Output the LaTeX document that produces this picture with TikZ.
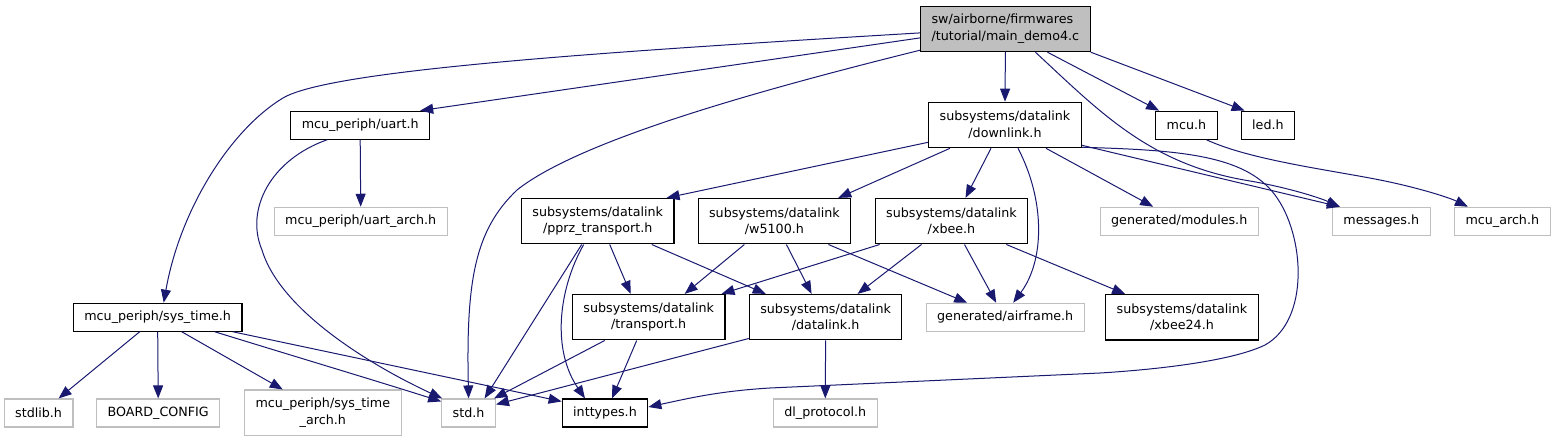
\documentclass[tikz,border=0pt]{standalone}
\usepackage{fontspec}
\setmainfont{DejaVu Sans}
\usepackage{tikz}
\usetikzlibrary{arrows.meta}
\definecolor{edgeblue}{RGB}{25,25,112}
\definecolor{rootgray}{RGB}{191,191,191}
\definecolor{extgray}{RGB}{191,191,191}

\begin{document}
\begin{tikzpicture}[
  x=1pt, y=-1pt,
  every node/.style={font=\fontsize{12.7}{16.5}\selectfont},
  box/.style={draw=black, fill=white, line width=1.1pt, minimum height=28pt, inner xsep=11pt, inner ysep=3pt, align=center},
  twoline/.style={minimum height=45.5pt},
  rootbox/.style={box, fill=rootgray, align=left},
  extbox/.style={box, draw=extgray},
  incl/.style={-{Triangle[length=13pt,width=10pt]}, draw=edgeblue, line width=1pt}
]
\useasboundingbox (0,0) rectangle (1556,443);

% files
\node[rootbox, twoline] (main) at (1005.4,28.9) {sw/airborne/firmwares\\/tutorial/main\_demo4.c};
\node[box] (uart) at (360.2,125.2) {mcu\_periph/uart.h};
\node[extbox] (uartarch) at (360.7,221.3) {mcu\_periph/uart\_arch.h};
\node[box, twoline] (downlink) at (1005,125) {subsystems/datalink\\/downlink.h};
\node[box] (mcu) at (1186.4,125.2) {mcu.h};
\node[box] (led) at (1267.9,125.2) {led.h};
\node[box] (systime) at (157.7,317.2) {mcu\_periph/sys\_time.h};
\node[box, twoline] (pprz) at (597.7,221.2) {subsystems/datalink\\/pprz\_transport.h};
\node[box, twoline] (w5100) at (774.4,221.2) {subsystems/datalink\\/w5100.h};
\node[box, twoline] (xbee) at (951.5,221.2) {subsystems/datalink\\/xbee.h};
\node[extbox] (modules) at (1179.2,221.3) {generated/modules.h};
\node[extbox] (messages) at (1381.3,221.3) {messages.h};
\node[extbox] (mcuarch) at (1502.3,221.3) {mcu\_arch.h};
\node[box, twoline] (transport) at (648.7,317.2) {subsystems/datalink\\/transport.h};
\node[box, twoline] (datalink) at (825.6,317.2) {subsystems/datalink\\/datalink.h};
\node[extbox] (airframe) at (1005.2,317.3) {generated/airframe.h};
\node[box, twoline] (xbee24) at (1182,317.3) {subsystems/datalink\\/xbee24.h};
\node[extbox] (stdlib) at (38.6,413) {stdlib.h};
\node[extbox] (boardcfg) at (158.2,413) {BOARD\_CONFIG};
\node[extbox, twoline] (systimearch) at (322.8,412.8) {mcu\_periph/sys\_time\\\_arch.h};
\node[extbox] (std) at (468.6,413) {std.h};
\node[box] (inttypes) at (605,413) {inttypes.h};
\node[extbox] (dlproto) at (825.3,413) {dl\_protocol.h};

% includes of main_demo4.c
\draw[incl] ([yshift=-9pt]main.west) -- ([xshift=-10pt]uart.north east);
\draw[incl] ([yshift=-4pt]main.west) .. controls (600,52) and (330,70) .. (283,98)
  .. controls (230,130) and (180,210) .. ([xshift=6pt]systime.north);
\draw[incl] ([yshift=2pt]main.south west) .. controls (760,90) and (580,140) .. (517,190)
  .. controls (475,230) and (466,280) .. (std.north);
\draw[incl] (main.south) -- (downlink.north);
\draw[incl] ([xshift=42pt]main.south) -- ([xshift=4pt]mcu.north west);
\draw[incl] (main.south east) -- ([xshift=4pt]led.north west);
\draw[incl] ([xshift=30pt]main.south) .. controls (1100,112) and (1150,165) .. (1250,181)
  .. controls (1290,188) and (1320,198) .. ([xshift=8pt]messages.north west);
\draw[incl] ([xshift=20pt]mcu.south) .. controls (1250,160) and (1330,170) .. (1380,180)
  .. controls (1420,188) and (1450,198) .. ([xshift=14pt]mcuarch.north west);

% downlink.h
\draw[incl] ([yshift=6pt]downlink.south west) -- ([xshift=-8pt]pprz.north east);
\draw[incl] ([xshift=-55pt]downlink.south) -- ([xshift=-13pt]w5100.north east);
\draw[incl] ([xshift=-14pt]downlink.south) -- ([xshift=14pt]xbee.north);
\draw[incl] ([xshift=13pt]downlink.south) .. controls (1045,200) and (1045,260) .. ([xshift=8pt]airframe.north);
\draw[incl] ([xshift=41pt]downlink.south) -- ([xshift=-26pt]modules.north);
\draw[incl] ([yshift=3pt]downlink.south east) -- ([xshift=8pt]messages.north west);
\draw[incl] ([yshift=1pt]downlink.south east) .. controls (1180,150) and (1245,155) .. (1275,195)
  .. controls (1305,235) and (1310,320) .. (1265,345)
  .. controls (1230,362) and (1150,370) .. (1100,373) -- (770,388)
  .. controls (720,391) and (690,398) .. ([yshift=6pt]inttypes.east);

% uart.h and sys_time.h
\draw[incl] (uart.south) -- (uartarch.north);
\draw[incl] ([xshift=-33pt]uart.south) .. controls (270,160) and (245,210) .. (262,250)
  .. controls (280,310) and (370,365) .. ([xshift=1pt]std.north west);
\draw[incl] ([xshift=-18pt]systime.south) -- ([xshift=20pt]stdlib.north);
\draw[incl] (systime.south) -- (boardcfg.north);
\draw[incl] ([xshift=24pt]systime.south) -- ([xshift=-40pt]systimearch.north);
\draw[incl] ([xshift=57pt]systime.south) .. controls (290,355) and (380,382) .. ([yshift=-3pt]std.north west);
\draw[incl] ([xshift=75pt]systime.south) -- ([yshift=-3pt]inttypes.north west);

% transports
\draw[incl] ([xshift=12pt]pprz.south) -- ([xshift=-18pt]transport.north);
\draw[incl] ([xshift=54pt]pprz.south) -- ([xshift=17pt]datalink.north west);
\draw[incl] ([xshift=-16pt]pprz.south) -- ([xshift=16pt]std.north);
\draw[incl] ([xshift=-14pt]pprz.south) .. controls (558,290) and (552,350) .. ([xshift=-20pt]inttypes.north);
\draw[incl] ([xshift=-30pt]w5100.south) -- ([xshift=36pt]transport.north);
\draw[incl] ([xshift=12pt]w5100.south) -- ([xshift=-14pt]datalink.north);
\draw[incl] ([xshift=54pt]w5100.south) -- ([xshift=-38pt]airframe.north);
\draw[incl] ([xshift=5pt]xbee.south west) -- ([xshift=-4pt]transport.north east);
\draw[incl] ([xshift=-30pt]xbee.south) -- ([xshift=32pt]datalink.north);
\draw[incl] ([xshift=13pt]xbee.south) -- ([xshift=-9pt]airframe.north);
\draw[incl] ([xshift=-22pt]xbee.south east) -- ([xshift=20pt]xbee24.north west);
\draw[incl] ([xshift=-44pt]transport.south) -- ([xshift=-2pt]std.north east);
\draw[incl] ([xshift=-12pt]transport.south) -- ([xshift=7pt]inttypes.north);
\draw[incl] ([yshift=2pt]datalink.south west) -- ([yshift=-6pt]std.north east);
\draw[incl] (datalink.south) -- (dlproto.north);
\end{tikzpicture}
\end{document}
